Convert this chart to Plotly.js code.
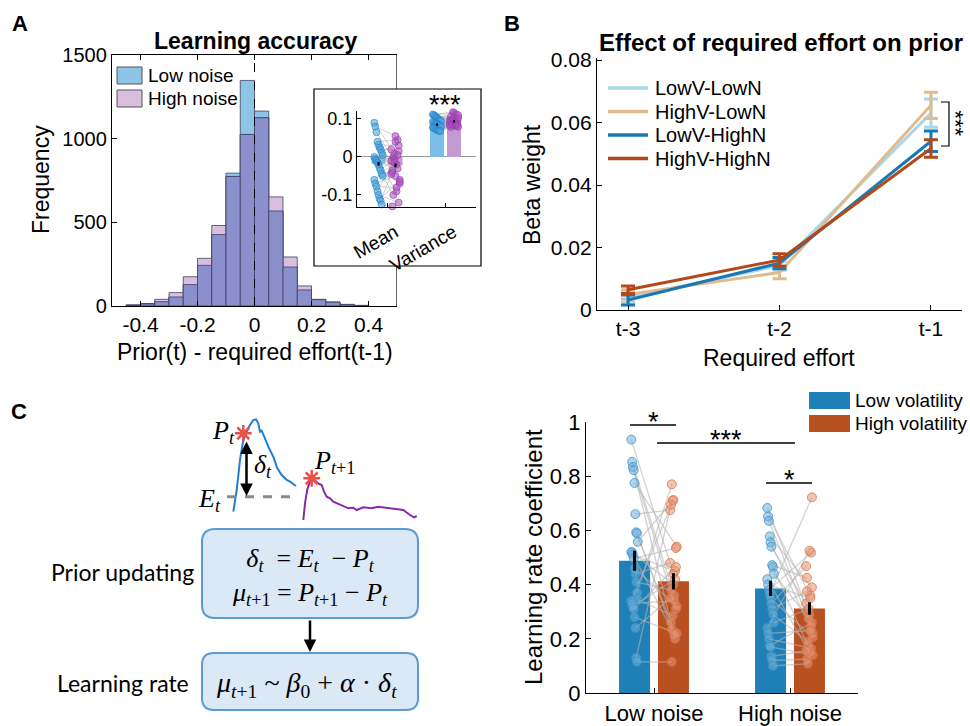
<!DOCTYPE html>
<html><head><meta charset="utf-8">
<script src="https://cdn.plot.ly/plotly-3.0.1.min.js"></script>
<style>html,body{margin:0;padding:0;background:#fff}#chart{width:970px;height:726px}</style>
</head><body><div id="chart"></div>
<script>
// ================= DATA =================
// Panel A: histogram of Prior(t) - required effort(t-1)
const binCenters = [-0.425,-0.375,-0.325,-0.275,-0.225,-0.175,-0.125,-0.075,-0.025,0.025,0.075,0.125,0.175,0.225,0.275,0.325,0.375];
const lowNoiseCounts  = [3,15,26,54,128,243,427,794,1348,1165,568,233,96,38,24,10,4];
const highNoiseCounts = [8,12,40,80,175,285,481,774,1025,1125,652,293,120,40,22,8,3];
const binWidth = 0.05;
const noiseNames = ['Low noise','High noise'];

// Panel A inset: mean / variance per participant
const insetCategories = ['Mean','Variance'];
const insetLowBars  = [-0.018, 0.085];
const insetHighBars = [-0.022, 0.094];
const insetLowErr   = [0.005, 0.003];
const insetHighErr  = [0.005, 0.003];
const insetLowMeanDots  = [0.09,0.08,0.065,0.04,0.032,0.025,0.02,0.012,0.005,0.0,-0.005,-0.01,-0.015,-0.02,-0.028,-0.035,-0.045,-0.05,-0.06,-0.07,-0.078,-0.09,-0.1,-0.11,-0.115,-0.125];
const insetHighMeanDots = [0.01,0.055,-0.02,0.045,0.03,-0.06,0.02,-0.04,0.0,-0.005,0.04,-0.09,-0.03,0.015,-0.07,-0.01,-0.035,-0.1,-0.015,-0.05,-0.08,0.005,-0.12,-0.065,-0.045,-0.13];
const insetLowVarDots   = [0.112,0.11,0.108,0.105,0.103,0.1,0.098,0.096,0.095,0.093,0.091,0.09,0.088,0.087,0.085,0.083,0.082,0.08,0.078,0.077,0.075,0.073,0.072,0.07,0.069,0.068];
const insetHighVarDots  = [0.118,0.116,0.104,0.112,0.1,0.11,0.097,0.106,0.093,0.1,0.088,0.096,0.092,0.09,0.102,0.087,0.095,0.085,0.09,0.083,0.088,0.082,0.086,0.08,0.084,0.079];

// Panel B: beta weights
const lagLabels = ['t-3','t-2','t-1'];
const seriesNames = ['LowV-LowN','HighV-LowN','LowV-HighN','HighV-HighN'];
const betaLowVLowN   = [0.004, 0.0142, 0.063];
const betaHighVLowN  = [0.005, 0.012, 0.0655];
const betaLowVHighN  = [0.0032, 0.015, 0.054];
const betaHighVHighN = [0.0065, 0.016, 0.0517];
const errLowVLowN   = [0.0015, 0.0015, 0.0045];
const errHighVLowN  = [0.0015, 0.002, 0.0042];
const errLowVHighN  = [0.0016, 0.0018, 0.0033];
const errHighVHighN = [0.0012, 0.002, 0.0028];

// Panel C: learning-rate coefficients
const noiseLevels = ['Low noise','High noise'];
const volNames = ['Low volatility','High volatility'];
const lrLowVol  = [0.488, 0.386];
const lrHighVol = [0.412, 0.312];
const lrLowVolErr  = [0.037, 0.028];
const lrHighVolErr = [0.03, 0.023];
const lnLowVolDots  = [0.935,0.853,0.834,0.822,0.775,0.66,0.593,0.589,0.558,0.52,0.518,0.51,0.497,0.46,0.44,0.41,0.37,0.345,0.34,0.33,0.32,0.31,0.28,0.24,0.13,0.115];
const lnHighVolDots = [0.44,0.36,0.2,0.31,0.54,0.675,0.26,0.235,0.71,0.4,0.215,0.45,0.535,0.32,0.48,0.38,0.77,0.285,0.712,0.34,0.42,0.465,0.22,0.35,0.695,0.115];
const hnLowVolDots  = [0.683,0.652,0.635,0.578,0.556,0.54,0.472,0.465,0.44,0.42,0.40,0.38,0.365,0.35,0.33,0.31,0.29,0.26,0.24,0.22,0.2,0.175,0.17,0.135,0.12,0.1];
const hnHighVolDots = [0.29,0.36,0.245,0.39,0.22,0.33,0.425,0.175,0.275,0.15,0.35,0.518,0.722,0.205,0.468,0.375,0.19,0.31,0.525,0.23,0.165,0.26,0.14,0.155,0.125,0.108];

// Panel C schematic (illustration curves, in figure pixels)
const priorCurveX = [233.3,236.7,240,243.3,246.7,250,253.3,256,258.3,260,261.7,264,268.3,273.3,277.3,281.7,286.7,290,296];
const priorCurveY = [511.7,490,460,440,431.7,425,420,419.3,423.3,431.7,430.7,436.7,446.7,456.7,468.3,475,480,481.7,486];
const nextCurveX = [303.3,305,307.3,310,313.3,318.3,321.7,324,326.7,330,333.3,338.3,343.3,348.3,353.3,356.7,363.3,371.7,378.3,386.7,395,403.3,410,414,416.7];
const nextCurveY = [520,503.3,489.3,481.7,479.3,483.3,485,491.7,496.7,498.3,501.7,504,506,508.3,507.7,510,507.3,508.3,506.7,507.7,508.3,510,515,517.3,516];
const priorMarkX = [243.3, 311.7];
const priorMarkY = [433.3, 478.3];

// ================= STYLE / HELPERS =================
const W = 970, H = 726;
const PX = x => x / W, PY = y => 1 - y / H;
const FONT = 'Liberation Sans, Arial, Helvetica, sans-serif';
const MATH = 'Liberation Serif, Times New Roman, serif';
const SANS2 = 'Lato, Open Sans, sans-serif';
const jit = (i, s) => (((i * 37) % 9) - 4) * s;
const histColors = ['#8ec5e6', '#d9bedf'];
const histOverlap = '#8b8fcc';
const betaColors = ['#a8d8ea', '#e2bb8c', '#1a78b5', '#b3491a'];
const volColors = ['#1f80b8', '#b9501f'];

function pairLines(xa, ya, xb, yb) {
  const X = [], Y = [];
  for (let i = 0; i < ya.length; i++) { X.push(xa[i], xb[i], null); Y.push(ya[i], yb[i], null); }
  return {X, Y};
}
function roundRect(x0, y0, x1, y1, r) {
  return `M${x0+r},${y0} H${x1-r} Q${x1},${y0} ${x1},${y0+r} V${y1-r} Q${x1},${y1} ${x1-r},${y1} H${x0+r} Q${x0},${y1} ${x0},${y1-r} V${y0+r} Q${x0},${y0} ${x0+r},${y0} Z`;
}

const traces = [];

// ---------- Panel A histogram ----------
const overlapCounts = lowNoiseCounts.map((v, i) => Math.min(v, highNoiseCounts[i]));
const edge = {color: '#3a4263', width: 0.8};
traces.push({type:'bar', x:binCenters, y:lowNoiseCounts, width:binWidth, name:noiseNames[0], showlegend:false,
  marker:{color:histColors[0], line:edge}, xaxis:'x', yaxis:'y'});
traces.push({type:'bar', x:binCenters, y:highNoiseCounts, width:binWidth, name:noiseNames[1], showlegend:false,
  marker:{color:histColors[1], line:edge}, xaxis:'x', yaxis:'y'});
traces.push({type:'bar', x:binCenters, y:overlapCounts, width:binWidth, name:'Both', showlegend:false,
  marker:{color:histOverlap, line:edge}, xaxis:'x', yaxis:'y'});

// ---------- Panel A inset ----------
const insetPos = insetCategories.map((c, i) => i + 1);
const insOff = 0.145;
traces.push({type:'bar', x:insetPos, y:insetLowBars, width:0.24, offset:-0.265, showlegend:false,
  marker:{color:'#7bbde6'}, xaxis:'x3', yaxis:'y3'});
traces.push({type:'bar', x:insetPos, y:insetHighBars, width:0.24, offset:0.025, showlegend:false,
  marker:{color:'#c39ad2'}, xaxis:'x3', yaxis:'y3'});
{
  const groups = [[insetLowMeanDots, insetHighMeanDots, 1], [insetLowVarDots, insetHighVarDots, 2]];
  const lx = [], ly = [], bx = [], by = [], px = [], py = [];
  groups.forEach(([lo, hi, c]) => {
    const xa = lo.map((v, i) => c - insOff + jit(i, 0.018));
    const xb = hi.map((v, i) => c + insOff + jit(i + 3, 0.018));
    const p = pairLines(xa, lo, xb, hi);
    lx.push(...p.X); ly.push(...p.Y);
    bx.push(...xa); by.push(...lo); px.push(...xb); py.push(...hi);
  });
  traces.push({type:'scatter', mode:'lines', x:lx, y:ly, line:{color:'rgba(170,170,170,0.55)', width:1},
    showlegend:false, xaxis:'x3', yaxis:'y3', cliponaxis:false});
  traces.push({type:'scatter', mode:'markers', x:bx, y:by, showlegend:false, xaxis:'x3', yaxis:'y3', cliponaxis:false,
    marker:{size:7, color:'rgba(70,160,220,0.55)', line:{color:'rgba(40,130,200,0.8)', width:0.8}}});
  traces.push({type:'scatter', mode:'markers', x:px, y:py, showlegend:false, xaxis:'x3', yaxis:'y3', cliponaxis:false,
    marker:{size:7, color:'rgba(170,80,190,0.55)', line:{color:'rgba(150,60,170,0.8)', width:0.8}}});
}
traces.push({type:'scatter', mode:'markers', x:insetPos.map(p => p - insOff), y:insetLowBars, showlegend:false,
  marker:{size:2, color:'black'}, error_y:{type:'data', array:insetLowErr, color:'black', thickness:2, width:0}, xaxis:'x3', yaxis:'y3'});
traces.push({type:'scatter', mode:'markers', x:insetPos.map(p => p + insOff), y:insetHighBars, showlegend:false,
  marker:{size:2, color:'black'}, error_y:{type:'data', array:insetHighErr, color:'black', thickness:2, width:0}, xaxis:'x3', yaxis:'y3'});

// ---------- Panel B ----------
const lagPos = lagLabels.map((l, i) => i + 1);
const betaData = [betaLowVLowN, betaHighVLowN, betaLowVHighN, betaHighVHighN];
const betaErr = [errLowVLowN, errHighVLowN, errLowVHighN, errHighVHighN];
betaData.forEach((ys, k) => {
  traces.push({type:'scatter', mode:'lines', x:lagPos, y:ys, name:seriesNames[k], showlegend:false,
    line:{color:betaColors[k], width:3},
    error_y:{type:'data', array:betaErr[k], color:betaColors[k], thickness:3, width:7},
    xaxis:'x4', yaxis:'y4'});
});

// ---------- Panel C bars ----------
const noisePos = noiseLevels.map((n, i) => i + 1);
const cOff = 0.143;
traces.push({type:'bar', x:noisePos, y:lrLowVol, width:0.228, offset:-0.257, name:volNames[0], showlegend:false,
  marker:{color:volColors[0]}, xaxis:'x5', yaxis:'y5'});
traces.push({type:'bar', x:noisePos, y:lrHighVol, width:0.228, offset:0.029, name:volNames[1], showlegend:false,
  marker:{color:volColors[1]}, xaxis:'x5', yaxis:'y5'});
{
  const groups = [[lnLowVolDots, lnHighVolDots, 1], [hnLowVolDots, hnHighVolDots, 2]];
  const lx = [], ly = [], bx = [], by = [], ox = [], oy = [];
  groups.forEach(([lo, hi, c]) => {
    const xa = lo.map((v, i) => c - cOff + jit(i, 0.006));
    const xb = hi.map((v, i) => c + cOff + jit(i + 4, 0.006));
    const p = pairLines(xa, lo, xb, hi);
    lx.push(...p.X); ly.push(...p.Y);
    bx.push(...xa); by.push(...lo); ox.push(...xb); oy.push(...hi);
  });
  traces.push({type:'scatter', mode:'lines', x:lx, y:ly, line:{color:'rgba(180,180,180,0.6)', width:1.3},
    showlegend:false, xaxis:'x5', yaxis:'y5'});
  traces.push({type:'scatter', mode:'markers', x:bx, y:by, showlegend:false, xaxis:'x5', yaxis:'y5', cliponaxis:false,
    marker:{size:9, color:'rgba(110,175,215,0.55)', line:{color:'rgba(60,145,200,0.75)', width:1}}});
  traces.push({type:'scatter', mode:'markers', x:ox, y:oy, showlegend:false, xaxis:'x5', yaxis:'y5', cliponaxis:false,
    marker:{size:9, color:'rgba(230,150,115,0.55)', line:{color:'rgba(210,115,75,0.75)', width:1}}});
}
traces.push({type:'scatter', mode:'markers', x:noisePos.map(p => p - cOff), y:lrLowVol, showlegend:false,
  marker:{size:2, color:'black'}, error_y:{type:'data', array:lrLowVolErr, color:'black', thickness:3, width:0}, xaxis:'x5', yaxis:'y5'});
traces.push({type:'scatter', mode:'markers', x:noisePos.map(p => p + cOff), y:lrHighVol, showlegend:false,
  marker:{size:2, color:'black'}, error_y:{type:'data', array:lrHighVolErr, color:'black', thickness:3, width:0}, xaxis:'x5', yaxis:'y5'});

// ---------- Panel C schematic ----------
traces.push({type:'scatter', mode:'lines', x:priorCurveX, y:priorCurveY, line:{color:'#1f7fd0', width:2}, showlegend:false, xaxis:'x6', yaxis:'y6'});
traces.push({type:'scatter', mode:'lines', x:nextCurveX, y:nextCurveY, line:{color:'#8a2aa8', width:2}, showlegend:false, xaxis:'x6', yaxis:'y6'});
traces.push({type:'scatter', mode:'markers', x:priorMarkX, y:priorMarkY, showlegend:false, xaxis:'x6', yaxis:'y6',
  marker:{symbol:'asterisk-open', size:14, color:'#e8504a', line:{color:'#e8504a', width:2.5}}});

// ================= LAYOUT =================
const axBase = {showgrid:false, zeroline:false, showline:true, linecolor:'#000', linewidth:1.2,
  ticks:'inside', ticklen:5, tickcolor:'#000', tickfont:{family:FONT, size:21, color:'#000'}, fixedrange:true};
const hidden = {showgrid:false, zeroline:false, showline:false, showticklabels:false, ticks:'', fixedrange:true};

const annotations = [];
const ann = (x, y, text, size, opts = {}) => annotations.push(Object.assign({
  xref:'paper', yref:'paper', x:PX(x), y:PY(y), text, showarrow:false,
  font:{family:FONT, size, color:'#000'}, xanchor:'center', yanchor:'middle'}, opts));

// panel letters & titles
ann(20, 23, '<b>A</b>', 22);
ann(512, 23, '<b>B</b>', 22);
ann(19, 411, '<b>C</b>', 22);
ann(255, 41, '<b>Learning accuracy</b>', 23);
ann(781, 43, '<b>Effect of required effort on prior</b>', 24);
// axis titles
ann(41, 180, 'Frequency', 23, {textangle:-90});
ann(255, 352, 'Prior(t) - required effort(t-1)', 23);
ann(532, 185, 'Beta weight', 23, {textangle:-90});
ann(779, 358, 'Required effort', 23);
ann(533, 557, 'Learning rate coefficient', 24, {textangle:-90});
// significance
ann(445, 105, '***', 27);
ann(955.5, 123, '***', 22, {textangle:90, borderpad:0});
ann(653, 422, '*', 27);
ann(726, 440, '***', 27);
ann(789, 480, '*', 27);
// legends (text)
[[76, noiseNames[0]], [99, noiseNames[1]]].forEach(([y, t]) => ann(146, y, t, 19, {xanchor:'left'}));
[88, 111.5, 135, 158.5].forEach((y, k) => ann(653, y, seriesNames[k], 20, {xanchor:'left'}));
[400, 423.5].forEach((y, k) => ann(853, y, volNames[k], 19, {xanchor:'left'}));

// schematic text (pixel axes x6/y6)
const annD = (x, y, text, size, fam, opts = {}) => annotations.push(Object.assign({
  xref:'x6', yref:'y6', x, y, text, showarrow:false, font:{family:fam, size, color:'#000'},
  xanchor:'center', yanchor:'middle'}, opts));
annD(223, 432, '<i>P</i><sub><i>t</i></sub>', 26, MATH);
annD(263, 466, '<i>δ</i><sub><i>t</i></sub>', 26, MATH);
annD(209, 500, '<i>E</i><sub><i>t</i></sub>', 26, MATH);
annD(334, 462, '<i>P</i><sub><i>t</i>+1</sub>', 26, MATH);
annD(310, 577, '<i>δ</i><sub><i>t</i></sub> \u00a0= <i>E</i><sub><i>t</i></sub> \u00a0− <i>P</i><sub><i>t</i></sub><br>' +
  '<i>μ</i><sub><i>t</i>+1</sub> = <i>P</i><sub><i>t</i>+1</sub> − <i>P</i><sub><i>t</i></sub>', 26, MATH);
annD(306, 684, '<i>μ</i><sub><i>t</i>+1</sub> ~ <i>β</i><sub>0</sub> + <i>α</i> · <i>δ</i><sub><i>t</i></sub>', 28, MATH);
annD(122, 572, 'Prior updating', 23, SANS2);
annD(123, 683, 'Learning rate', 23, SANS2);
// arrows
annotations.push({xref:'x6', yref:'y6', axref:'x6', ayref:'y6', x:246.5, y:496, ax:246.5, ay:440, text:'',
  showarrow:true, arrowhead:2, arrowside:'end+start', arrowsize:1, arrowwidth:2.5, arrowcolor:'#000'});
annotations.push({xref:'x6', yref:'y6', axref:'x6', ayref:'y6', x:310, y:652, ax:310, ay:619, text:'',
  showarrow:true, arrowhead:2, arrowsize:1, arrowwidth:2.5, arrowcolor:'#000'});

const shapes = [
  // inset frame (white panel over the histogram area)
  {type:'rect', xref:'paper', yref:'paper', x0:PX(314), x1:PX(481), y0:PY(266), y1:PY(89),
    fillcolor:'#fff', line:{color:'#000', width:1.2}, layer:'below'},
  // histogram right frame edge, interrupted by the inset
  {type:'path', xref:'x', yref:'y', path:'M0.5,0 V239 M0.5,1297 V1500', line:{color:'#000', width:1.2}},
  {type:'line', xref:'x', yref:'y', x0:0, x1:0, y0:0, y1:1500, line:{color:'#000', width:1, dash:'dash'}},
  // panel B bracket
  {type:'path', xref:'x4', yref:'y4', path:'M3.066,0.06656 H3.119 V0.05248 H3.066', line:{color:'#000', width:1.2}},
  // panel C significance lines
  {type:'line', xref:'x5', yref:'y5', x0:0.824, x1:1.162, y0:0.989, y1:0.989, line:{color:'#000', width:1.6}},
  {type:'line', xref:'x5', yref:'y5', x0:1.022, x1:2.037, y0:0.9225, y1:0.9225, line:{color:'#000', width:1.6}},
  {type:'line', xref:'x5', yref:'y5', x0:1.824, x1:2.162, y0:0.775, y1:0.775, line:{color:'#000', width:1.6}},
  // schematic
  {type:'line', xref:'x6', yref:'y6', x0:227, x1:296, y0:496.7, y1:496.7, line:{color:'#8a8a8a', width:3, dash:'dash'}},
  {type:'path', xref:'x6', yref:'y6', path:roundRect(202, 529, 418, 618, 13), fillcolor:'#dbe8f6', line:{color:'#5b9bd5', width:2}, layer:'below'},
  {type:'path', xref:'x6', yref:'y6', path:roundRect(202, 653, 418, 710, 12), fillcolor:'#dbe8f6', line:{color:'#5b9bd5', width:2}, layer:'below'},
];
// legend keys
[[67, 84], [90, 107]].forEach(([y0, y1], k) => shapes.push({type:'rect', xref:'paper', yref:'paper',
  x0:PX(117), x1:PX(142), y0:PY(y1), y1:PY(y0), fillcolor:histColors[k], line:{color:'#555', width:1}}));
[88, 111.5, 135, 158.5].forEach((y, k) => shapes.push({type:'line', xref:'paper', yref:'paper',
  x0:PX(608), x1:PX(648), y0:PY(y), y1:PY(y), line:{color:betaColors[k], width:3.5}}));
[[392, 409], [415, 432]].forEach(([y0, y1], k) => shapes.push({type:'rect', xref:'paper', yref:'paper',
  x0:PX(809), x1:PX(850), y0:PY(y1), y1:PY(y0), fillcolor:volColors[k], line:{width:0}}));

const layout = {
  width: W, height: H, margin:{l:0, r:0, t:0, b:0},
  paper_bgcolor:'#fff', plot_bgcolor:'#fff', showlegend:false,
  barmode:'overlay', hovermode:false, font:{family:FONT, color:'#000'},
  // A histogram
  xaxis: Object.assign({}, axBase, {domain:[PX(112), PX(397)], anchor:'y', range:[-0.5, 0.5],
    tickvals:[-0.4,-0.2,0,0.2,0.4], ticktext:['-0.4','-0.2','0','0.2','0.4'], mirror:'ticks'}),
  yaxis: Object.assign({}, axBase, {domain:[PY(306), PY(55)], anchor:'x', range:[0, 1500],
    tickvals:[0,500,1000,1500], tickfont:{family:FONT, size:20, color:'#000'}}),
  // inset axes
  xaxis3: Object.assign({}, axBase, {domain:[PX(357), PX(476)], anchor:'y3', range:[0.487, 2.521],
    tickvals:insetPos, ticktext:insetCategories, tickangle:-30, ticklen:4, linewidth:1,
    ticklabelstandoff:6, ticklabelshift:8, tickfont:{family:FONT, size:19, color:'#000'}}),
  yaxis3: Object.assign({}, axBase, {domain:[PY(207), PY(111)], anchor:'x3', range:[-0.1316, 0.121],
    tickvals:[-0.1,0,0.1], ticktext:['-0.1','0','0.1'], ticklen:4, linewidth:1,
    zeroline:true, zerolinecolor:'#999', zerolinewidth:1, tickfont:{family:FONT, size:18, color:'#000'}}),
  // B
  xaxis4: Object.assign({}, axBase, {domain:[PX(597), PX(962)], anchor:'y4', range:[0.795, 3.205],
    tickvals:lagPos, ticktext:lagLabels}),
  yaxis4: Object.assign({}, axBase, {domain:[PY(310), PY(58)], anchor:'x4', range:[0, 0.08064],
    tickvals:[0,0.02,0.04,0.06,0.08], ticktext:['0','0.02','0.04','0.06','0.08']}),
  // C bars
  xaxis5: Object.assign({}, axBase, {domain:[PX(586), PX(858)], anchor:'y5', range:[0.5, 2.5],
    tickvals:noisePos, ticktext:noiseLevels, tickfont:{family:FONT, size:22, color:'#000'}}),
  yaxis5: Object.assign({}, axBase, {domain:[PY(693), PY(422)], anchor:'x5', range:[0, 1],
    tickvals:[0,0.2,0.4,0.6,0.8,1], ticktext:['0','0.2','0.4','0.6','0.8','1'], tickfont:{family:FONT, size:22, color:'#000'}}),
  // schematic pixel axes
  xaxis6: Object.assign({}, hidden, {domain:[0, PX(480)], anchor:'y6', range:[0, 480]}),
  yaxis6: Object.assign({}, hidden, {domain:[0, PY(370)], anchor:'x6', range:[726, 370]}),
  annotations, shapes
};

Plotly.newPlot('chart', traces, layout, {staticPlot:true, displayModeBar:false});
</script>
</body></html>
